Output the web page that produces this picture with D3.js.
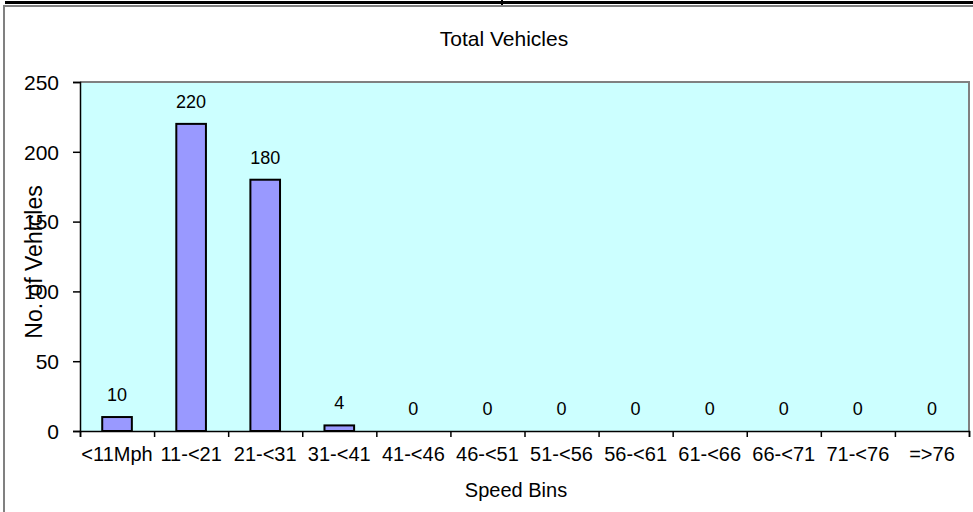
<!DOCTYPE html>
<html>
<head>
<meta charset="utf-8">
<script src="https://d3js.org/d3.v7.min.js"></script>
<style>
  body { margin: 0; background: #fff; }
  text { font-family: "Liberation Sans", Arial, sans-serif; fill: #000; }
</style>
</head>
<body>
<div id="chart"></div>
<script>
// data
const speedBins = ['<11Mph', '11-<21', '21-<31', '31-<41', '41-<46', '46-<51',
                   '51-<56', '56-<61', '61-<66', '66-<71', '71-<76', '=>76'];
const vehicleCounts = [10, 220, 180, 4, 0, 0, 0, 0, 0, 0, 0, 0];
const yTicks = [0, 50, 100, 150, 200, 250];

const fromID = (idString) => d3.select(`#${idString}`);

const box = {w: 973, h: 512};
const plot = {l: 80, t: 82, r: 969, b: 431};

let svg = fromID('chart').append('svg')
    .attr('width', box.w)
    .attr('height', box.h);

// outer frame bits
svg.append('rect').attr('x', 5).attr('y', 1).attr('width', 968).attr('height', 3).attr('fill', '#000');
svg.append('rect').attr('x', 501).attr('y', 0).attr('width', 2).attr('height', 5).attr('fill', '#000');
svg.append('rect').attr('x', 3).attr('y', 5).attr('width', 970).attr('height', 2).attr('fill', '#808080');
svg.append('rect').attr('x', 3).attr('y', 5).attr('width', 2).attr('height', 507).attr('fill', '#808080');

let x = d3.scaleBand().domain(speedBins).range([plot.l, plot.r]).padding(0);
let xEdges = d3.scaleLinear().domain([0, speedBins.length]).range([plot.l, plot.r]);
let y = d3.scaleLinear().domain([0, 250]).range([plot.b, plot.t]);

// plot area
svg.append('rect')
    .attr('x', plot.l).attr('y', plot.t)
    .attr('width', plot.r - plot.l).attr('height', plot.b - plot.t)
    .attr('fill', '#CCFFFF');
svg.append('path')
    .attr('d', `M${plot.l},${plot.t}H${plot.r}V${plot.b}`)
    .attr('fill', 'none').attr('stroke', '#808080').attr('stroke-width', 2);

// bars
let barW = x.bandwidth() / 2.5;
svg.selectAll('.bar')
    .data(vehicleCounts)
    .enter().append('rect')
    .attr('class', 'bar')
    .attr('x', (d, i) => x(speedBins[i]) + (x.bandwidth() - barW) / 2)
    .attr('y', d => y(d))
    .attr('width', barW)
    .attr('height', d => y(0) - y(d))
    .attr('fill', '#9999FF')
    .attr('stroke', '#000')
    .attr('stroke-width', 2);

// data labels
svg.selectAll('.lbl')
    .data(vehicleCounts)
    .enter().append('text')
    .attr('class', 'lbl')
    .attr('x', (d, i) => x(speedBins[i]) + x.bandwidth() / 2)
    .attr('y', d => y(d) - 16)
    .attr('text-anchor', 'middle')
    .style('font-size', '18px')
    .text(d => d);

// y axis
let yAxis = svg.append('g')
    .attr('transform', `translate(${plot.l},0)`)
    .call(d3.axisLeft(y).tickValues(yTicks).tickSize(7).tickPadding(14));
yAxis.selectAll('text').style('font-size', '21px').attr('dy', '0.35em');

// x axis: ticks on the band edges, labels in the middle
let xAxis = svg.append('g')
    .attr('transform', `translate(0,${plot.b})`)
    .call(d3.axisBottom(xEdges).tickValues(d3.range(speedBins.length + 1)).tickSize(6).tickFormat(''));
svg.append('g')
    .attr('transform', `translate(0,${plot.b})`)
    .call(d3.axisBottom(x).tickSize(0).tickPadding(16))
    .call(g => g.select('.domain').remove())
    .selectAll('text').style('font-size', '20px');

svg.selectAll('.domain, .tick line').attr('stroke', '#000').attr('stroke-width', 1.5);

// titles
svg.append('text')
    .attr('x', 504).attr('y', 46)
    .attr('text-anchor', 'middle')
    .style('font-size', '21px')
    .text('Total Vehicles');

svg.append('text')
    .attr('x', 516).attr('y', 497)
    .attr('text-anchor', 'middle')
    .style('font-size', '20px')
    .text('Speed Bins');

svg.append('text')
    .attr('transform', 'rotate(-90)')
    .attr('x', -262).attr('y', 42)
    .attr('text-anchor', 'middle')
    .style('font-size', '23px')
    .text('No. of Vehicles');
</script>
</body>
</html>
